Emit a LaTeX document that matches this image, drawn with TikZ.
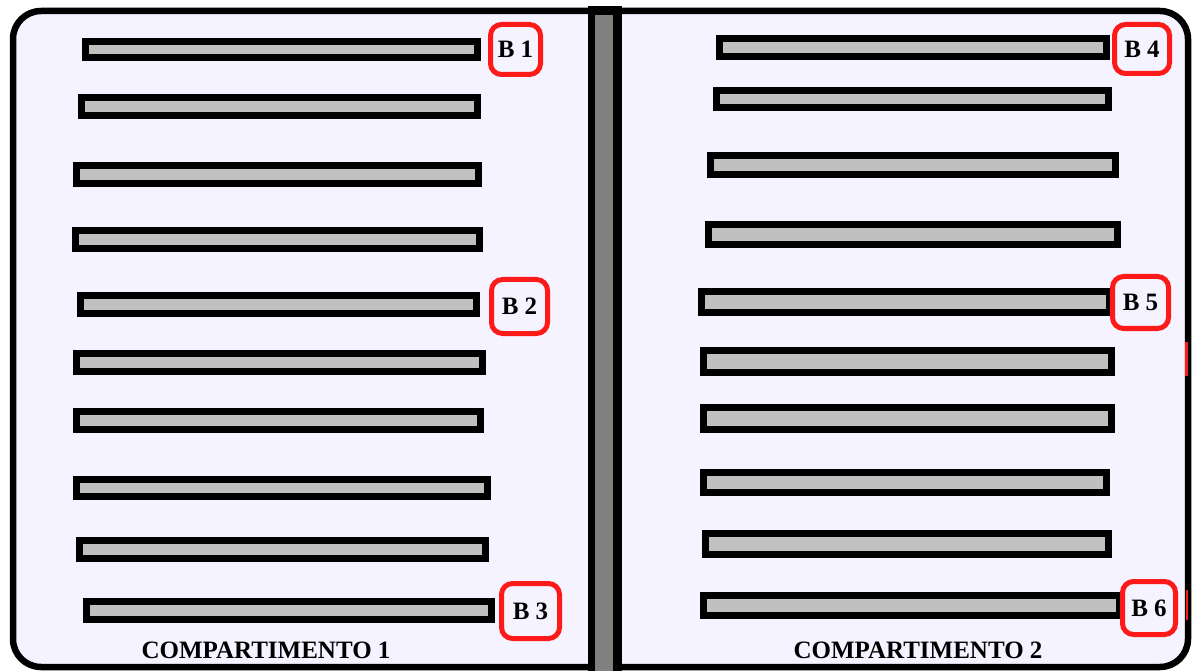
\documentclass[tikz,border=0pt]{standalone}
\usepackage{fontspec}
\setmainfont{Liberation Serif}
\definecolor{lav}{RGB}{245,243,255}
\definecolor{barg}{RGB}{192,192,192}
\definecolor{divg}{RGB}{128,128,128}
\definecolor{lred}{RGB}{255,26,26}
\newcommand\slab[4]{\draw[slab] (#1+3.5,-#2-3.5) rectangle (#3-3.5,-#4+3.5);}
\begin{document}
\begin{tikzpicture}[x=1pt,y=1pt,
  slab/.style={draw=black,fill=barg,line width=7pt},
  lab/.style={draw=lred,line width=5pt,rounded corners=11pt,fill=none,inner sep=0pt,
    font=\fontsize{25}{25}\selectfont\bfseries,text=black},
  ctitle/.style={font=\fontsize{25}{25}\selectfont\bfseries,text=black,anchor=base,inner sep=0pt}]
\useasboundingbox (0,0) rectangle (1195,-671);
\fill[white] (0,0) rectangle (1195,-671);
% outer box
\draw[line width=6.5pt,fill=lav,rounded corners=28pt] (13,-11) rectangle (1188,-667);
% divider
\fill[black] (588,-6) rectangle (622,-671);
\fill[divg] (595,-15) rectangle (613,-671);
% left bars
\slab{82}{38}{481}{61}
\slab{78}{94}{481}{119}
\slab{73}{162}{482}{187}
\slab{72}{227}{483}{252}
\slab{77}{292}{480}{317}
\slab{73}{350}{486}{375}
\slab{73}{408}{484}{433}
\slab{73}{476}{491}{500}
\slab{76}{537}{489}{562}
\slab{83}{598}{495}{623}
% right bars
\slab{716}{35}{1110}{60}
\slab{713}{87}{1112}{111}
\slab{707}{152}{1119}{178}
\slab{705}{221}{1121}{248}
\slab{698}{288}{1113}{316}
\slab{700}{347}{1115}{376}
\slab{700}{404}{1115}{433}
\slab{700}{469}{1110}{496}
\slab{702}{530}{1112}{558}
\slab{700}{592}{1123}{619}
% labels
\node[lab,minimum width=50pt,minimum height=50pt] (b1) at (515.5,-49.5) {B 1};
\node[lab,minimum width=56pt,minimum height=54pt] (b2) at (519.5,-306.5) {B 2};
\node[lab,minimum width=58pt,minimum height=55pt] (b3) at (530.5,-611) {B 3};
\node[lab,minimum width=55pt,minimum height=49pt] (b4) at (1142,-49) {B 4};
\node[lab,minimum width=56pt,minimum height=52pt] (b5) at (1140.5,-302.5) {B 5};
\node[lab,minimum width=53pt,minimum height=53pt] (b6) at (1149,-608) {B 6};
% small red marks on the right edge
\draw[lred,line width=3pt] (1186,-342) -- (1186,-376);
\draw[lred,line width=2pt] (1187,-590) -- (1187,-620);
% titles
\node[ctitle] (c1) at (266,-658) {COMPARTIMENTO 1};
\node[ctitle] (c2) at (918,-658) {COMPARTIMENTO 2};
\end{tikzpicture}
\end{document}
